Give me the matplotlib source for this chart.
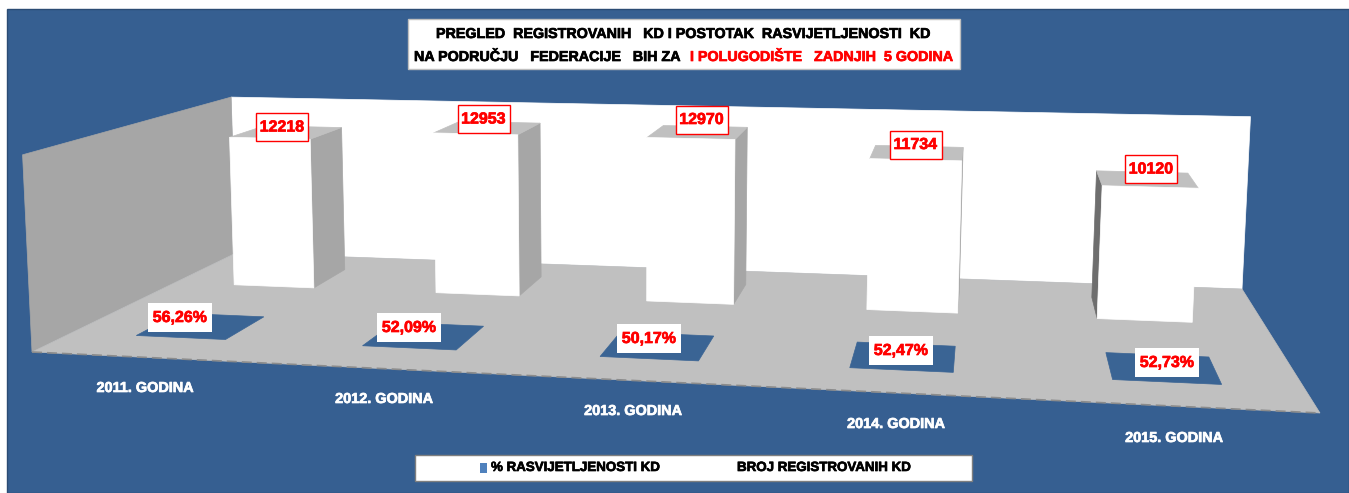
import numpy as np
import matplotlib
matplotlib.use('Agg')
from matplotlib import pyplot as plt
from matplotlib import patheffects as pe
from matplotlib.patches import Polygon, Rectangle

# data
godine = ['2011. GODINA', '2012. GODINA', '2013. GODINA', '2014. GODINA', '2015. GODINA']
broj_kd = [12218, 12953, 12970, 11734, 10120]
postotak = [56.26, 52.09, 50.17, 52.47, 52.73]
postotak_txt = ['56,26%', '52,09%', '50,17%', '52,47%', '52,73%']

W, H = 1349, 493
Z_MAX = 14000.0
PLAVA = '#365F91'

BAR_HALF = 0.2
PAD_V = (0.155, 0.355)
BAR_V = (0.65, 0.855)

# corners of the floor in picture pixels: front-left, front-right, back-right, back-left
floor_px = [(32, 352), (1320, 413), (1242, 289), (236, 253)]
# points of known height used to fit the vertical direction: u, v, z, x, y
# the wall corner goes in three times, otherwise the bars pull it off
visina_px = [(0, 0, Z_MAX, 21, 153), (0, 0, Z_MAX, 21, 153), (0, 0, Z_MAX, 21, 153), (0, 1, Z_MAX, 232, 97),
             (5, 1, Z_MAX, 1250, 119),
             (0.3, 0.65, 12218, 230, 137), (0.7, 0.65, 12218, 312, 139), (1.3, 0.65, 12953, 436, 134),
             (3.3, 0.65, 11734, 871, 160), (4.3, 0.65, 10120, 1101, 187), (4.7, 0.65, 10120, 1197, 188)]


def homography(pts):
    src = [(0, 0), (5, 0), (5, 1), (0, 1)]
    A, b = [], []
    for (u, v), (x, y) in zip(src, pts):
        A.append([u, v, 1, 0, 0, 0, -u * x, -v * x])
        A.append([0, 0, 0, u, v, 1, -u * y, -v * y])
        b += [x, y]
    return np.append(np.linalg.solve(np.array(A, float), np.array(b, float)), 1).reshape(3, 3)


H_floor = homography(floor_px)

# z column of the 3x4 camera matrix, least squares
A, b = [], []
for u, v, z, x, y in visina_px:
    X, Y, w = H_floor @ np.array([u, v, 1.0])
    A.append([z, 0, -x * z])
    b.append(x * w - X)
    A.append([0, z, -y * z])
    b.append(y * w - Y)
z_col = np.linalg.lstsq(np.array(A), np.array(b), rcond=None)[0]


def proj(u, v, z=0.0):
    p = H_floor @ np.array([u, v, 1.0]) + z_col * z
    return (p[0] / p[2], p[1] / p[2])


plt.rcParams['font.family'] = ['Liberation Sans', 'DejaVu Sans']
fig = plt.figure(figsize=(W / 100, H / 100), dpi=100, facecolor='white')
ax = fig.add_axes([0, 0, 1, 1])
ax.set_xlim(0, W)
ax.set_ylim(H, 0)
ax.axis('off')


def poly(pts, c, z=1):
    ax.add_patch(Polygon(pts, closed=True, fc=c, ec=c, lw=0.5, zorder=z))


def tekst(x, y, s, size, color='black', ha='left', z=7):
    # thin stroke, the original text is heavier than plain bold
    ax.text(x, y, s, color=color, fontsize=size, fontweight='bold', ha=ha, va='center', zorder=z,
            path_effects=[pe.withStroke(linewidth=0.5, foreground=color)])


ax.add_patch(Rectangle((7, 9), W - 7, H - 9, fc=PLAVA, ec='#2b4c74', lw=1, zorder=0))

# walls and floor
poly([proj(0, 1), proj(5, 1), proj(5, 1, Z_MAX), proj(0, 1, Z_MAX)], 'white')
poly([proj(0, 0), proj(0, 1), proj(0, 1, Z_MAX), proj(0, 0, Z_MAX)], '#A6A6A6')
poly([proj(0, 0), proj(5, 0), proj(5, 1), proj(0, 1)], '#C0C0C0')
ax.plot(*zip(proj(0, 0), proj(5, 0)), color='#8C8C8C', lw=1.2, zorder=1, dashes=(6, 3))

# flat % series in the front row
for i, val in enumerate(postotak):
    u0, u1 = i + 0.5 - BAR_HALF, i + 0.5 + BAR_HALF
    poly([proj(u0, PAD_V[0], val), proj(u1, PAD_V[0], val), proj(u1, PAD_V[1], val), proj(u0, PAD_V[1], val)], '#3A6494', 2)

# count series in the back row
for i, val in enumerate(broj_kd):
    u0, u1 = i + 0.5 - BAR_HALF, i + 0.5 + BAR_HALF
    v0, v1 = BAR_V
    # side face
    if proj(u1, v1)[0] > proj(u1, v0)[0]:
        poly([proj(u1, v0), proj(u1, v1), proj(u1, v1, val), proj(u1, v0, val)], '#A6A6A6', 3)
    if proj(u0, v1)[0] < proj(u0, v0)[0]:
        poly([proj(u0, v0), proj(u0, v1), proj(u0, v1, val), proj(u0, v0, val)], '#6E6E6E', 3)
    poly([proj(u0, v0, val), proj(u1, v0, val), proj(u1, v1, val), proj(u0, v1, val)], '#C0C0C0', 3)
    poly([proj(u0, v0), proj(u1, v0), proj(u1, v0, val), proj(u0, v0, val)], 'white', 4)

# value labels
kd_lbl = [(282, 127), (483.5, 119), (701.5, 119.5), (915.5, 144.5), (1151, 169)]
pct_lbl = [(180, 317.5), (409, 327.5), (649, 338.5), (901, 350.5), (1167, 362.5)]
for (x, y), val in zip(kd_lbl, broj_kd):
    ax.add_patch(Rectangle((x - 26, y - 14), 52, 28, fc='white', ec='red', lw=1, zorder=6))
    tekst(x, y, str(val), 11.5, 'red', 'center')
for (x, y), txt in zip(pct_lbl, postotak_txt):
    ax.add_patch(Rectangle((x - 32, y - 14.5), 64, 29, fc='white', ec='none', zorder=6))
    tekst(x, y, txt, 11.5, 'red', 'center')

# category labels
cat_xy = [(145, 388), (384, 399), (633, 411), (896, 424), (1174, 438)]
for (x, y), g in zip(cat_xy, godine):
    tekst(x, y, g, 10.4, 'white', 'center', 6)

# title
ax.add_patch(Rectangle((408, 19), 552, 50, fc='white', ec='#BFBFBF', lw=1, zorder=6))
tekst(436, 34, 'PREGLED  REGISTROVANIH   KD I POSTOTAK  RASVIJETLJENOSTI  KD', 10.3)
tekst(414, 57, 'NA PODRUČJU   FEDERACIJE   BIH ZA', 10.3)
tekst(690, 57, 'I POLUGODIŠTE   ZADNJIH  5 GODINA', 10.3, 'red')

# legend
ax.add_patch(Rectangle((415, 455), 557, 26, fc='white', ec='#7F7F7F', lw=1, zorder=6))
ax.add_patch(Rectangle((480, 463), 7, 10, fc='#4F81BD', ec='none', zorder=7))
tekst(491, 468, '% RASVIJETLJENOSTI KD', 9.6)
tekst(737, 468, 'BROJ REGISTROVANIH KD', 9.6)

fig.savefig('out.png', dpi=100)
